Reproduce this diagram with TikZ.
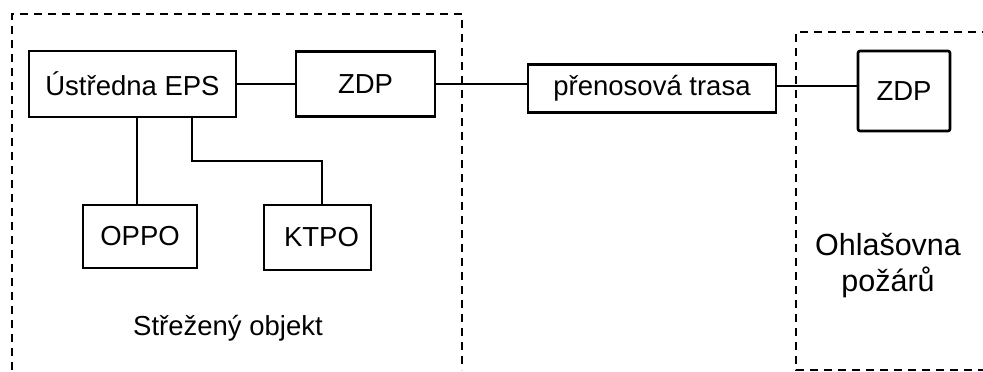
\documentclass[tikz,border=0pt]{standalone}
\usepackage{fontspec}
\setmainfont{Liberation Sans}
\begin{document}
\begin{tikzpicture}[x=1pt,y=-1pt,
  blk/.style={draw,line width=2.6pt,inner sep=0pt,font=\fontsize{27.5}{32}\selectfont},
  wire/.style={line width=2pt},
  zone/.style={line width=2pt,dash pattern=on 8pt off 6pt},
  lbl/.style={font=\fontsize{27.5}{33}\selectfont,align=center}]
\useasboundingbox (0,0) rectangle (983,372);
% zones
\draw[zone] (12,370) -- (12,14) -- (462,14) -- (462,370);
\draw[zone] (990,32) -- (796,32) -- (796,370) -- (990,370);
% blocks
\node[blk,minimum width=207pt,minimum height=66pt] (eps) at (132.5,84) {Ústředna EPS};
\node[blk,minimum width=139pt,minimum height=65pt] (zdp1) at (365.5,84) {ZDP};
\node[blk,minimum width=248pt,minimum height=48pt] (trasa) at (652,88.5) {přenosová trasa};
\node[blk,minimum width=92pt,minimum height=80pt,rounded corners=2pt] (zdp2) at (904,91) {ZDP};
\node[blk,minimum width=114pt,minimum height=63pt] (oppo) at (140,236.5) {OPPO};
\node[blk,minimum width=107pt,minimum height=65pt] (ktpo) at (317.5,237.5) {\hspace*{8pt}KTPO};
% labels
\node[lbl] (obj) at (228,328) {Střežený objekt};
\node[lbl,font=\fontsize{30.5}{36}\selectfont] (ohl) at (888,266) {Ohlašovna\\požárů};
% connectors
\draw[wire] (eps.east) -- (zdp1.west);
\draw[wire] (zdp1.east) -- (trasa.west |- zdp1.east);
\draw[wire] (trasa.east |- 0,86) -- (zdp2.west |- 0,86);
\draw[wire] (eps.south -| 137,0) -- (oppo.north -| 137,0);
\coordinate (k1) at (192,161);
\coordinate (k2) at (322,161);
\draw[wire] (eps.south -| k1) -- (k1) -- (k2) -- (ktpo.north -| k2);
\end{tikzpicture}
\end{document}
